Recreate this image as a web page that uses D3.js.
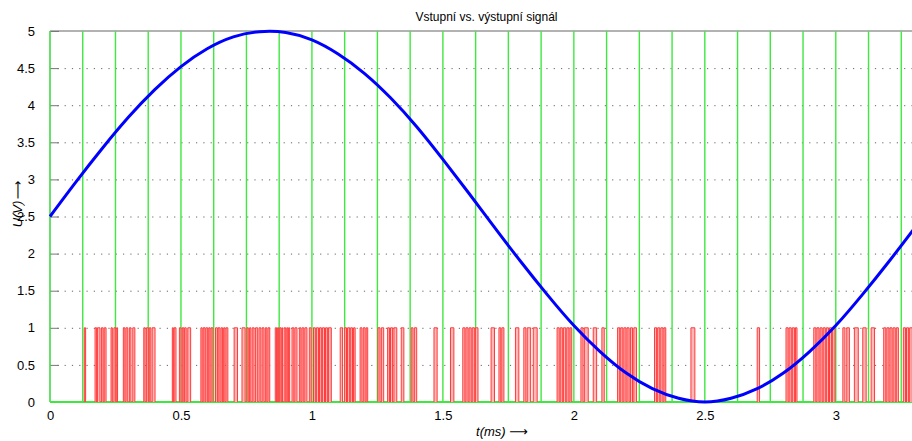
<!DOCTYPE html>
<html>
<head>
<meta charset="utf-8">
<script src="https://cdn.jsdelivr.net/npm/d3@7"></script>
<style>
body { margin: 0; background: #fff; }
text { font-family: "Liberation Sans", Arial, sans-serif; fill: #000; }
</style>
</head>
<body>
<svg id="chart"></svg>
<script>
// input signal (t in ms, U in V)
var tIn = [0, 0.1, 0.2, 0.3, 0.4, 0.5, 0.6, 0.7, 0.8, 0.9, 1.0, 1.1, 1.2, 1.3, 1.4, 1.5, 1.6, 1.7,
           1.8, 1.9, 2.0, 2.1, 2.2, 2.3, 2.4, 2.5, 2.6, 2.7, 2.8, 2.9, 3.0, 3.1, 3.2, 3.3, 3.4];
var uIn = [2.50, 2.97, 3.42, 3.84, 4.21, 4.52, 4.76, 4.92, 4.99, 4.98, 4.88, 4.69, 4.43, 4.10, 3.71, 3.27, 2.81, 2.34,
           1.88, 1.44, 1.03, 0.68, 0.39, 0.18, 0.05, 0.00, 0.05, 0.18, 0.39, 0.68, 1.03, 1.44, 1.88, 2.34, 2.81];

// clock edges (green)
var clockTimes = [0, 0.125, 0.25, 0.375, 0.5, 0.625, 0.75, 0.875, 1.0, 1.125, 1.25, 1.375, 1.5, 1.625,
                  1.75, 1.875, 2.0, 2.125, 2.25, 2.375, 2.5, 2.625, 2.75, 2.875, 3.0, 3.125, 3.25];
var clockHigh = 5;

// output bit pulses (red), [start, end] in ms, level 1
var pulses = [
  [0.131, 0.136], [0.172, 0.178], [0.181, 0.191], [0.197, 0.203], [0.207, 0.214],
  [0.233, 0.238], [0.244, 0.251], [0.255, 0.258], [0.280, 0.286], [0.290, 0.297],
  [0.303, 0.309], [0.316, 0.324], [0.358, 0.363], [0.368, 0.375], [0.379, 0.385],
  [0.390, 0.401], [0.467, 0.471], [0.474, 0.481], [0.494, 0.500], [0.505, 0.511],
  [0.514, 0.520], [0.526, 0.537], [0.576, 0.581], [0.585, 0.592], [0.595, 0.602],
  [0.606, 0.611], [0.615, 0.622], [0.632, 0.639], [0.642, 0.649], [0.653, 0.659],
  [0.663, 0.668], [0.672, 0.679], [0.703, 0.716], [0.733, 0.745], [0.752, 0.757],
  [0.762, 0.767], [0.772, 0.779], [0.785, 0.793], [0.798, 0.805], [0.810, 0.817],
  [0.822, 0.828], [0.832, 0.839], [0.860, 0.865], [0.869, 0.873], [0.877, 0.882],
  [0.885, 0.888], [0.894, 0.900], [0.904, 0.908], [0.911, 0.915], [0.924, 0.931],
  [0.935, 0.943], [0.952, 0.958], [0.962, 0.969], [0.973, 0.981], [0.990, 0.997],
  [1.006, 1.013], [1.017, 1.025], [1.029, 1.036], [1.040, 1.048], [1.052, 1.059],
  [1.063, 1.074], [1.108, 1.117], [1.125, 1.132], [1.136, 1.144], [1.148, 1.155],
  [1.159, 1.165], [1.184, 1.191], [1.196, 1.203], [1.207, 1.213], [1.252, 1.260],
  [1.265, 1.274], [1.289, 1.296], [1.300, 1.308], [1.313, 1.324], [1.341, 1.351],
  [1.379, 1.386], [1.391, 1.400], [1.466, 1.478], [1.529, 1.542], [1.576, 1.584],
  [1.588, 1.596], [1.600, 1.608], [1.612, 1.620], [1.624, 1.634], [1.684, 1.697],
  [1.714, 1.721], [1.725, 1.733], [1.777, 1.790], [1.809, 1.817], [1.822, 1.835],
  [1.845, 1.860], [1.936, 1.944], [1.948, 1.956], [1.960, 1.969], [1.973, 1.981],
  [1.985, 1.992], [2.027, 2.035], [2.040, 2.055], [2.074, 2.087], [2.107, 2.116],
  [2.167, 2.175], [2.179, 2.187], [2.191, 2.199], [2.203, 2.211], [2.216, 2.224],
  [2.229, 2.239], [2.308, 2.316], [2.320, 2.328], [2.332, 2.340], [2.344, 2.351],
  [2.447, 2.462], [2.700, 2.709], [2.810, 2.818], [2.822, 2.830], [2.834, 2.842],
  [2.846, 2.852], [2.916, 2.924], [2.928, 2.936], [2.940, 2.948], [2.952, 2.960],
  [2.964, 2.972], [2.976, 2.984], [2.988, 2.997], [3.027, 3.035], [3.042, 3.052],
  [3.071, 3.086], [3.103, 3.116], [3.135, 3.148], [3.183, 3.191], [3.195, 3.203],
  [3.207, 3.215], [3.219, 3.227], [3.231, 3.239], [3.258, 3.266], [3.270, 3.278],
  [3.282, 3.292]
];

var xTicks = [0, 0.5, 1, 1.5, 2, 2.5, 3];
var yTicks = [0, 0.5, 1, 1.5, 2, 2.5, 3, 3.5, 4, 4.5, 5];

var w = 912, h = 441;
var margin = {top: 31, right: -11, bottom: 39, left: 50};

var svg = d3.select("#chart").attr("width", w).attr("height", h);

var x = d3.scaleLinear().domain([0, 3.333]).range([margin.left, w - margin.right]);
var y = d3.scaleLinear().domain([0, 5]).range([h - margin.bottom, margin.top]);

// dotted grid
svg.append("g").selectAll("line")
  .data(yTicks.filter(function(d) { return d > 0 && d < 5; }))
  .enter().append("line")
  .attr("x1", x(0)).attr("x2", x(3.333))
  .attr("y1", function(d) { return y(d) + 0.5; })
  .attr("y2", function(d) { return y(d) + 0.5; })
  .attr("stroke", "#555")
  .attr("stroke-width", 0.9)
  .attr("stroke-dasharray", "1.2,6.1");

// axes box
svg.append("line")
  .attr("x1", x(0)).attr("x2", x(3.333))
  .attr("y1", y(5)).attr("y2", y(5))
  .attr("stroke", "#999").attr("stroke-width", 1.5);
svg.append("line")
  .attr("x1", x(0)).attr("x2", x(0))
  .attr("y1", y(0)).attr("y2", y(5))
  .attr("stroke", "#999");

// y axis ticks (inward) and labels
var yAxis = d3.axisLeft(y).tickValues(yTicks).tickFormat(String)
  .tickSizeInner(-9).tickSizeOuter(0).tickPadding(15);
var gy = svg.append("g").attr("transform", "translate(" + x(0) + ",0)").call(yAxis);
gy.select(".domain").remove();
gy.selectAll(".tick line").attr("stroke", "#777");
gy.selectAll(".tick text").style("font-size", "13px").style("font-family", "Liberation Sans, Arial, sans-serif");

// x axis labels
var xAxis = d3.axisBottom(x).tickValues(xTicks).tickFormat(String).tickSize(0).tickPadding(9);
var gx = svg.append("g").attr("transform", "translate(0," + y(0) + ")").call(xAxis);
gx.select(".domain").remove();
gx.selectAll(".tick text").style("font-size", "13px").style("font-family", "Liberation Sans, Arial, sans-serif");

// clock (green)
svg.append("g").selectAll("line")
  .data(clockTimes)
  .enter().append("line")
  .attr("x1", function(d) { return x(d); })
  .attr("x2", function(d) { return x(d); })
  .attr("y1", y(0)).attr("y2", y(clockHigh))
  .attr("stroke", "#3ee83e")
  .attr("stroke-width", 1.4);
svg.append("line")
  .attr("x1", x(0)).attr("x2", x(3.333))
  .attr("y1", y(0)).attr("y2", y(0))
  .attr("stroke", "#3ee83e").attr("stroke-width", 2);

// output pulses (red)
svg.append("g").selectAll("path")
  .data(pulses)
  .enter().append("path")
  .attr("d", function(d) {
    return "M" + x(d[0]) + "," + y(0) + "V" + y(1) + "H" + x(d[1]) + "V" + y(0);
  })
  .attr("fill", "#ffb8b8")
  .attr("stroke", "#ff3a3a")
  .attr("stroke-width", 1);

// input signal (blue)
var line = d3.line()
  .x(function(d, i) { return x(tIn[i]); })
  .y(function(d) { return y(d); })
  .curve(d3.curveNatural);
svg.append("path")
  .datum(uIn)
  .attr("d", line)
  .attr("fill", "none")
  .attr("stroke", "#0000ff")
  .attr("stroke-width", 3);

// texts
svg.append("text")
  .attr("x", (x(0) + x(3.333)) / 2).attr("y", 21)
  .attr("text-anchor", "middle")
  .style("font-size", "12px")
  .text("Vstupní vs. výstupní signál");

var xl = svg.append("text")
  .attr("x", 502).attr("y", 436)
  .attr("text-anchor", "middle")
  .style("font-size", "13px");
xl.append("tspan").style("font-style", "italic").text("t(ms) ");
xl.append("tspan").style("font-family", "DejaVu Sans").style("font-size", "13px").text("\u27F6");

// y label: rotated group, plain text inside
var ylg = svg.append("g").attr("transform", "translate(22,206) rotate(-90)");
ylg.append("text")
  .attr("x", -8).attr("y", 0)
  .attr("text-anchor", "middle")
  .attr("text-rendering", "geometricPrecision")
  .style("font-size", "13px").style("font-style", "italic")
  .text("U(V)");
ylg.append("text")
  .attr("x", 16).attr("y", 0)
  .attr("text-anchor", "middle")
  .attr("text-rendering", "geometricPrecision")
  .style("font-family", "DejaVu Sans").style("font-size", "13px")
  .text("\u27F6");
</script>
</body>
</html>
